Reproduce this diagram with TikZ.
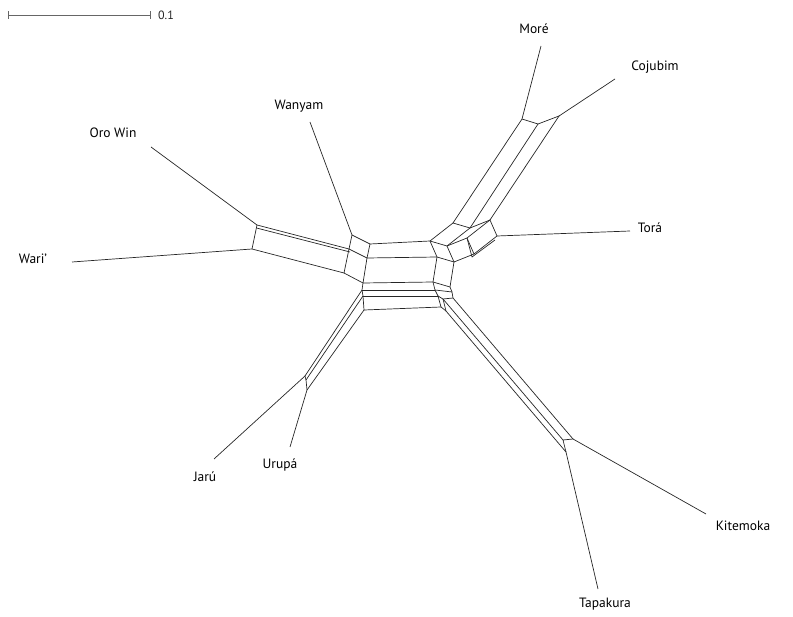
\documentclass[tikz,border=0pt]{standalone}
\usepackage{fontspec}
\setmainfont{PT Sans}
\begin{document}
\begin{tikzpicture}[x=1pt,y=-1pt,
  edge/.style={draw=black!85,line width=0.7pt,line join=round},
  taxon/.style={font=\fontsize{13.5}{14}\selectfont,inner sep=0pt,text=black},
  scalelbl/.style={font=\fontsize{12}{13}\selectfont,inner sep=0pt,text=black!85,anchor=west}]
\useasboundingbox (0,0) rectangle (793,617);

% scale bar
\coordinate (sb1) at (8,15);
\coordinate (sb2) at (150,15);
\draw[draw=black!60,line width=0.6pt] (sb1) -- (sb2);
\draw[draw=black!60,line width=0.6pt] ([yshift=-4]sb1) -- ([yshift=4]sb1);
\draw[draw=black!60,line width=0.6pt] ([yshift=-4]sb2) -- ([yshift=4]sb2);
\node[scalelbl] (sbl) at (158,15.5) {0.1};

% taxon labels
\node[taxon] (more) at (534,29) {Moré};
\node[taxon] (coju) at (655,67) {Cojubim};
\node[taxon] (wany) at (299,106) {Wanyam};
\node[taxon] (oro) at (113,133) {Oro Win};
\node[taxon] (tora) at (650,228) {Torá};
\node[taxon] (wari) at (33,259) {Wari’};
\node[taxon] (jaru) at (205,477) {Jarú};
\node[taxon] (urup) at (280,465) {Urupá};
\node[taxon] (kite) at (743,526) {Kitemoka};
\node[taxon] (tapa) at (605,604) {Tapakura};

% leaf ends of the pendant edges
\coordinate (eMo) at (541,46);
\coordinate (eCo) at (615,79);
\coordinate (eWy) at (310,122);
\coordinate (eOr) at (151,147);
\coordinate (eTo) at (630,231);
\coordinate (eWa) at (72,262);
\coordinate (eJa) at (214,459);
\coordinate (eUr) at (290,447);
\coordinate (eKi) at (706,514);
\coordinate (eTa) at (598,589);

% network vertices
\coordinate (Mo) at (522,119);
\coordinate (Mc) at (538,124);
\coordinate (Co) at (559,116);
\coordinate (M1) at (453,223);
\coordinate (M2) at (470,228);
\coordinate (M3) at (490,220);
\coordinate (To) at (497,236);
\coordinate (To2) at (495,240);
\coordinate (D1) at (467,238);
\coordinate (E1) at (474,254);
\coordinate (E1b) at (472,257);
\coordinate (C1) at (447,246);
\coordinate (E2) at (454,262);
\coordinate (F3) at (450,287);
\coordinate (F4) at (452,292);

\coordinate (Wy) at (352,235);
\coordinate (P) at (349,249);
\coordinate (P2) at (350,252);
\coordinate (Q) at (344,273);
\coordinate (Or) at (257,225);
\coordinate (Or2) at (256.5,228);
\coordinate (Wa) at (252,249);

\coordinate (L1) at (370,244);
\coordinate (L2) at (367,258);
\coordinate (L3) at (363,283);
\coordinate (L4) at (362,290);
\coordinate (L5) at (363,296);
\coordinate (L6) at (364,310);
\coordinate (R1) at (430,241);
\coordinate (R2) at (437,257);
\coordinate (R3) at (433,282);
\coordinate (R4) at (435,290);
\coordinate (R5) at (438,296);
\coordinate (R6) at (441,307);

\coordinate (Ja) at (305,376);
\coordinate (Ja2) at (306,380);
\coordinate (Ur) at (307,390);

\coordinate (A1) at (446,311);
\coordinate (A2) at (443,299);
\coordinate (A3) at (453,298);
\coordinate (Ta) at (566,452);
\coordinate (Tb) at (563,440);
\coordinate (Ki) at (573,439);

% pendant edges
\draw[edge] (eMo) -- (Mo);
\draw[edge] (eCo) -- (Co);
\draw[edge] (eWy) -- (Wy);
\draw[edge] (eOr) -- (Or);
\draw[edge] (eTo) -- (To);
\draw[edge] (eWa) -- (Wa);
\draw[edge] (eJa) -- (Ja);
\draw[edge] (eUr) -- (Ur);
\draw[edge] (eKi) -- (Ki);
\draw[edge] (eTa) -- (Ta);

% More / Cojubim arm
\draw[edge] (Mo) -- (Mc) -- (Co);
\draw[edge] (Mo) -- (M1);
\draw[edge] (Mc) -- (M2);
\draw[edge] (Co) -- (M3);
\draw[edge] (M1) -- (M2) -- (M3) -- (To);

% Tora junction and right side of the core
\draw[edge] (R1) -- (M1);
\draw[edge] (R1) -- (C1) -- (M2);
\draw[edge] (C1) -- (D1) -- (M3);
\draw[edge] (D1) -- (E1) -- (To);
\draw[edge] (D1) -- (E1b) -- (To2);
\draw[edge] (C1) -- (E2) -- (E1);
\draw[edge] (R1) -- (R2) -- (E2);
\draw[edge] (E2) -- (F3) -- (F4);
\draw[edge] (R3) -- (F3);
\draw[edge] (F4) -- (A3);
\draw[edge] (R4) -- (F4);

% Wanyam and Wari / Oro Win arm
\draw[edge] (Wy) -- (L1);
\draw[edge] (Wy) -- (P) -- (L2);
\draw[edge] (Or) -- (Wa);
\draw[edge] (Or) -- (P);
\draw[edge] (Or2) -- (P2);
\draw[edge] (Wa) -- (Q);
\draw[edge] (P) -- (Q) -- (L3);

% core rows and columns
\draw[edge] (L1) -- (R1);
\draw[edge] (L2) -- (R2);
\draw[edge] (L3) -- (R3);
\draw[edge] (L4) -- (R4);
\draw[edge] (L5) -- (R5);
\draw[edge] (L6) -- (R6);
\draw[edge] (L1) -- (L2) -- (L3) -- (L4) -- (L5) -- (L6);
\draw[edge] (R2) -- (R3) -- (R4) -- (R5) -- (R6);

% Jaru / Urupa arm
\draw[edge] (Ja) -- (Ja2) -- (Ur);
\draw[edge] (Ja) -- (L4);
\draw[edge] (Ja2) -- (L5);
\draw[edge] (Ur) -- (L6);

% Tapakura / Kitemoka arm
\draw[edge] (R6) -- (A1);
\draw[edge] (R5) -- (A2);
\draw[edge] (A1) -- (A2) -- (A3);
\draw[edge] (A1) -- (Ta);
\draw[edge] (A2) -- (Tb);
\draw[edge] (A3) -- (Ki);
\draw[edge] (Ta) -- (Tb) -- (Ki);
\end{tikzpicture}
\end{document}
